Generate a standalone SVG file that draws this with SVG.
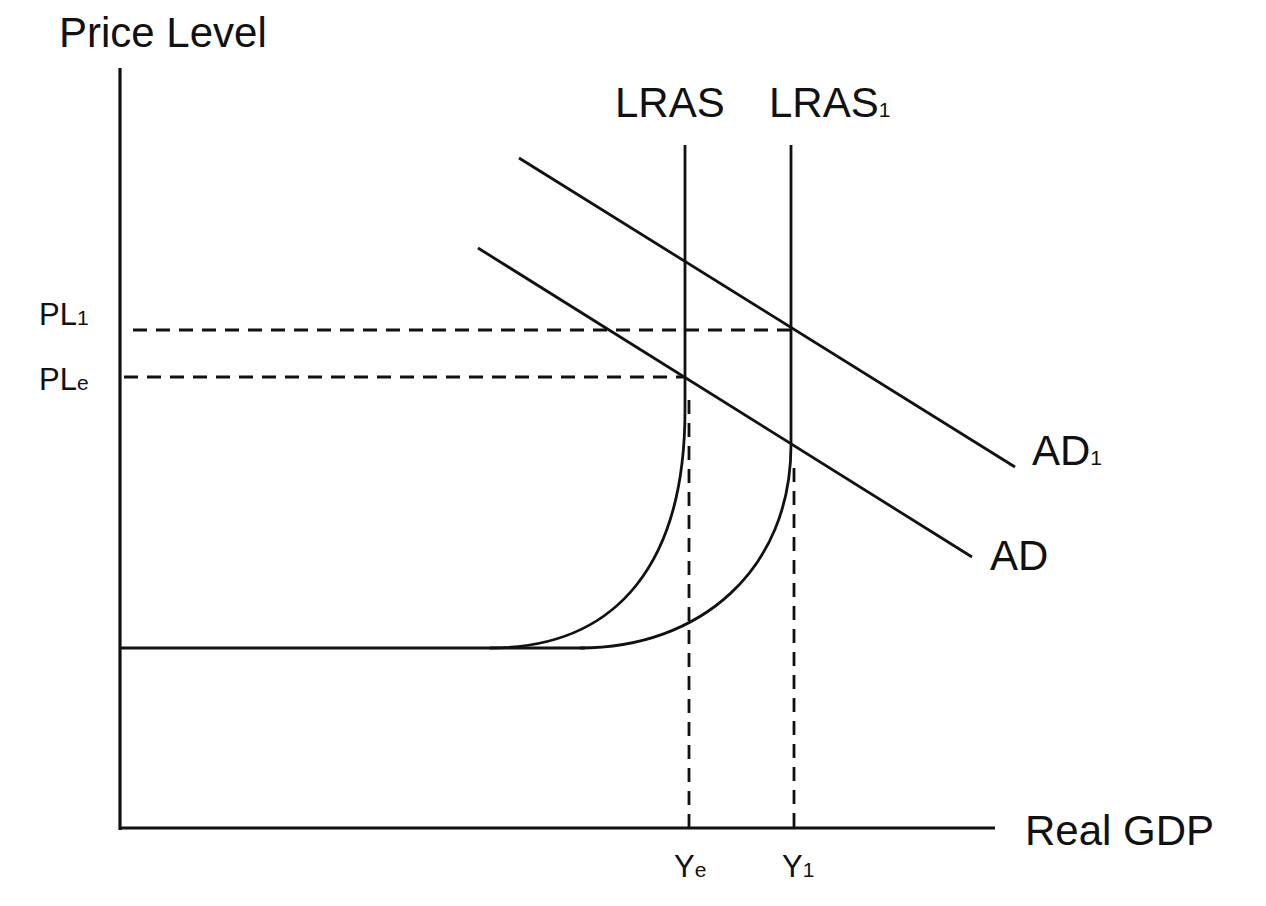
<svg xmlns="http://www.w3.org/2000/svg" width="1266" height="906" viewBox="0 0 1266 906">
<style>
.ln{fill:none;stroke:#111;stroke-width:2.8;stroke-linecap:butt}
.ax{fill:none;stroke:#111;stroke-width:3.2}
.ds{fill:none;stroke:#111;stroke-width:2.8;stroke-dasharray:14 9}
text{font-family:"Liberation Sans",Arial,sans-serif;fill:#111}
.big{font-size:42px}
.sm{font-size:31px}
.sub{font-size:21px}
</style>
<rect width="1266" height="906" fill="#fff"/>
<g id="axes">
<line class="ax" x1="120" y1="68" x2="120" y2="830"/>
<line class="ax" x1="119" y1="828" x2="995" y2="828"/>
</g>
<g id="labels">
<text class="big" x="59" y="47">Price Level</text>
<text class="big" x="1025" y="845">Real GDP</text>
<text class="big" x="615" y="117">LRAS</text>
<text class="big" x="769" y="117">LRAS<tspan class="sub">1</tspan></text>
<text class="sm" x="39" y="325">PL<tspan class="sub">1</tspan></text>
<text class="sm" x="39" y="390">PL<tspan class="sub">e</tspan></text>
<text class="big" x="1032" y="465">AD<tspan class="sub">1</tspan></text>
<text class="big" x="990" y="570">AD</text>
<text class="sm" x="674" y="877">Y<tspan class="sub">e</tspan></text>
<text class="sm" x="782" y="877">Y<tspan class="sub">1</tspan></text>
</g>
<g id="connectors">
<line class="ds" x1="124" y1="377" x2="685" y2="377"/>
<line class="ds" x1="133" y1="330" x2="791" y2="330"/>
<line class="ds" x1="689" y1="400" x2="689" y2="828"/>
<line class="ds" x1="794" y1="468" x2="794" y2="828"/>
</g>
<g id="LRAS">
<path class="ln" d="M685,145 L685,410 C685,560 620,648 490,648"/>
</g>
<g id="LRAS1">
<path class="ln" d="M791,145 L791,445 C791,570 700,648 580,648"/>
</g>
<g id="SRAS-base">
<line class="ln" x1="120" y1="648" x2="585" y2="648"/>
</g>
<g id="AD1">
<line class="ln" x1="519" y1="158" x2="1015" y2="467"/>
</g>
<g id="AD">
<line class="ln" x1="478" y1="248" x2="972" y2="557"/>
</g>
</svg>
